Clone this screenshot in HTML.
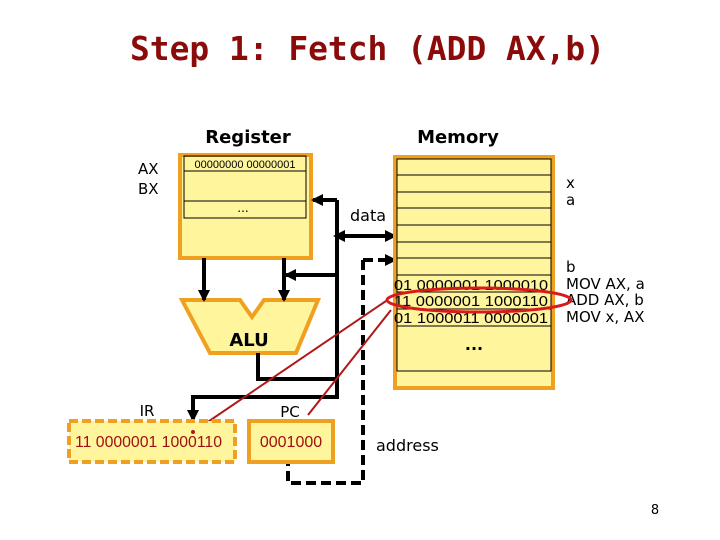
<!DOCTYPE html>
<html><head><meta charset="utf-8"><style>
body{margin:0;background:#fff;}
svg{display:block;font-family:"DejaVu Sans","Liberation Sans",sans-serif;}
</style></head><body>
<svg width="720" height="540" viewBox="0 0 720 540" xmlns="http://www.w3.org/2000/svg">
<defs>
<marker id="ah2" markerWidth="12" markerHeight="12" refX="10" refY="6" orient="auto" markerUnits="userSpaceOnUse" viewBox="0 0 12 12"><path d="M0,0 L12,6 L0,12 z" fill="#000"/></marker>
</defs>
<text x="130" y="60" textLength="475" lengthAdjust="spacingAndGlyphs" font-family="'DejaVu Sans Mono','Liberation Mono',monospace" font-weight="bold" font-size="33" fill="#8b0a0a">Step 1: Fetch (ADD AX,b)</text>
<text x="248" y="143" text-anchor="middle" font-size="18" font-weight="bold">Register</text>
<text x="458" y="143" text-anchor="middle" font-size="18" font-weight="bold">Memory</text>
<text x="138" y="174" font-size="15">AX</text>
<text x="138" y="194" font-size="15">BX</text>
<rect x="180" y="155" width="131" height="103" fill="#fff59c" stroke="#f0a020" stroke-width="4"/>
<rect x="184" y="156" width="122" height="62" fill="none" stroke="#000" stroke-width="1"/>
<line x1="184" y1="171" x2="306" y2="171" stroke="#000"/>
<line x1="184" y1="201" x2="306" y2="201" stroke="#000"/>
<text x="245" y="168" text-anchor="middle" font-size="11" font-family="'Liberation Sans',sans-serif">00000000 00000001</text>
<text x="243" y="212" text-anchor="middle" font-size="12">...</text>
<polygon points="182,300 240,300 252,317 264,300 318,300 296,353 210,353" fill="#fff59c" stroke="#f0a020" stroke-width="4"/>
<text x="249" y="346" text-anchor="middle" font-size="18" font-weight="bold">ALU</text>
<g stroke="#000" stroke-width="4" fill="none">
<line x1="204" y1="258" x2="204" y2="300" marker-end="url(#ah2)"/>
<line x1="284" y1="258" x2="284" y2="300" marker-end="url(#ah2)"/>
<polyline points="337,200 337,397 193,397 193,420" marker-end="url(#ah2)"/>
<line x1="337" y1="200" x2="313" y2="200" marker-end="url(#ah2)"/>
<line x1="337" y1="275" x2="286" y2="275" marker-end="url(#ah2)"/>
<polyline points="258,353 258,379 337,379"/>
<line x1="337" y1="236" x2="395" y2="236" marker-end="url(#ah2)"/>
<line x1="350" y1="236" x2="335" y2="236" marker-end="url(#ah2)"/>
<polyline points="363,260 363,483 288,483 288,462" stroke-dasharray="10,5"/>
<line x1="363" y1="260" x2="395" y2="260" stroke-dasharray="10,5" marker-end="url(#ah2)"/>
</g>
<text x="350" y="221" font-size="16">data</text>
<text x="376" y="451" font-size="16">address</text>
<rect x="395" y="157" width="158" height="231" fill="#fff59c" stroke="#f0a020" stroke-width="4"/>
<rect x="397" y="159" width="154" height="212" fill="none" stroke="#000"/>
<g stroke="#000">
<line x1="397" y1="175" x2="551" y2="175"/><line x1="397" y1="192" x2="551" y2="192"/>
<line x1="397" y1="208" x2="551" y2="208"/><line x1="397" y1="225" x2="551" y2="225"/>
<line x1="397" y1="242" x2="551" y2="242"/><line x1="397" y1="258" x2="551" y2="258"/>
<line x1="397" y1="275" x2="551" y2="275"/><line x1="397" y1="292" x2="551" y2="292"/>
<line x1="397" y1="309" x2="551" y2="309"/><line x1="397" y1="326" x2="551" y2="326"/>
</g>
<g font-size="15" font-family="'Liberation Sans',sans-serif">
<text x="394" y="290" textLength="154" lengthAdjust="spacingAndGlyphs">01 0000001 1000010</text>
<text x="394" y="306" textLength="154" lengthAdjust="spacingAndGlyphs">11 0000001 1000110</text>
<text x="394" y="323" textLength="154" lengthAdjust="spacingAndGlyphs">01 1000011 0000001</text>
</g>
<text x="474" y="350" text-anchor="middle" font-size="16" font-weight="bold">...</text>
<g font-size="15">
<text x="566" y="188">x</text><text x="566" y="205">a</text>
<text x="566" y="272">b</text>
<text x="566" y="289">MOV AX, a</text>
<text x="566" y="305">ADD AX, b</text>
<text x="566" y="322">MOV x, AX</text>
</g>
<ellipse cx="479" cy="300" rx="92" ry="12" fill="none" stroke="#d81a1a" stroke-width="3"/>
<line x1="386" y1="301" x2="193" y2="432" stroke="#b01818" stroke-width="2"/>
<line x1="391" y1="310" x2="308" y2="415" stroke="#b01818" stroke-width="2"/>
<text x="147" y="416" text-anchor="middle" font-size="15">IR</text>
<text x="290" y="417" text-anchor="middle" font-size="15">PC</text>
<rect x="69" y="421" width="166" height="41" fill="#fff59c" stroke="#f0a020" stroke-width="4" stroke-dasharray="9,4"/>
<text x="75" y="447" textLength="147" lengthAdjust="spacingAndGlyphs" font-size="16" fill="#a01010" font-family="'Liberation Sans',sans-serif">11 0000001 1000110</text>
<circle cx="193" cy="432" r="2" fill="#b01818"/>
<rect x="249" y="421" width="84" height="41" fill="#fff59c" stroke="#f0a020" stroke-width="4"/>
<text x="291" y="447" text-anchor="middle" font-size="16" fill="#a01010" font-family="'Liberation Sans',sans-serif">0001000</text>
<text x="655" y="514" text-anchor="middle" font-size="13">8</text>
</svg>
</body></html>
